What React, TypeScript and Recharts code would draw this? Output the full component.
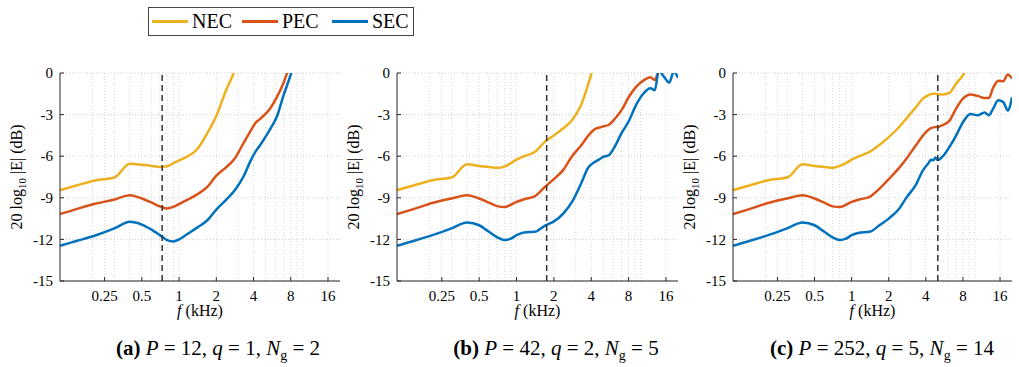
import React from "react";
import { CartesianGrid, Line, LineChart, ReferenceLine, XAxis, YAxis } from "recharts";

const SERIF = '"Liberation Serif", "DejaVu Serif", serif';

// frequency grid in kHz (shared by every curve)
const FREQ = [
  0.109, 0.15, 0.21, 0.3, 0.4, 0.5, 0.6, 0.7, 0.8, 0.9, 1.0, 1.15, 1.4, 1.7, 2.0, 2.4, 2.8, 3.3, 3.8,
  4.2, 4.4, 4.6, 4.8, 5.0, 5.5, 6.2, 7.0, 8.0, 9.2, 10.5, 12, 13, 14, 15.5, 17, 18.5, 20,
];

type V = number | null;

// (a) P = 12
const NEC_A: V[] = [
  -8.45, -8.1, -7.75, -7.54, -6.55, -6.62, -6.7, -6.77, -6.72, -6.5, -6.3, -6.05, -5.5, -4.3, -3.1,
  -1.25, 0.1, 1.8, null, null, null, null, null, null, null, null, null, null, null, null, null, null,
  null, null, null, null, null,
];
const PEC_A: V[] = [
  -10.18, -9.8, -9.43, -9.12, -8.81, -9.05, -9.35, -9.62, -9.77, -9.65, -9.45, -9.17, -8.75, -8.2, -7.4,
  -6.8, -6.2, -5.1, -4.15, -3.55, -3.4, -3.25, -3.1, -2.95, -2.5, -1.7, -0.7, 0.8, null, null, null,
  null, null, null, null, null, null,
];
const SEC_A: V[] = [
  -12.46, -12.1, -11.72, -11.21, -10.73, -10.93, -11.3, -11.69, -12.05, -12.15, -12.0, -11.65, -11.15,
  -10.6, -9.85, -9.15, -8.5, -7.5, -6.3, -5.6, -5.35, -5.1, -4.85, -4.6, -4.0, -3.1, -1.6, -0.1, 1.8,
  null, null, null, null, null, null, null, null,
];

// (b) P = 42
const NEC_B: V[] = [
  -8.45, -8.1, -7.73, -7.54, -6.58, -6.7, -6.78, -6.84, -6.75, -6.5, -6.25, -6.0, -5.7, -4.95, -4.5,
  -3.97, -3.4, -2.35, -0.75, 0.6, null, null, null, null, null, null, null, null, null, null, null,
  null, null, null, null, null, null,
];
const PEC_B: V[] = [
  -10.18, -9.8, -9.38, -9.05, -8.81, -9.05, -9.35, -9.6, -9.67, -9.5, -9.3, -9.1, -8.9, -8.2, -7.65,
  -6.95, -6.0, -5.25, -4.5, -4.1, -4.0, -3.95, -3.9, -3.85, -3.75, -3.3, -2.7, -1.75, -1.0, -0.55, -0.3,
  -0.5, 0.2, 0.8, null, null, null,
];
const SEC_B: V[] = [
  -12.46, -12.1, -11.69, -11.2, -10.78, -10.98, -11.45, -11.85, -12.05, -11.95, -11.7, -11.5, -11.45,
  -11.0, -10.7, -10.1, -9.3, -8.0, -6.8, -6.45, -6.35, -6.25, -6.15, -6.05, -5.95, -5.3, -4.35, -3.5,
  -2.3, -1.5, -1.1, -1.25, 0.15, -0.3, -0.7, 0.1, -0.35,
];

// (c) P = 252
const NEC_C: V[] = [
  -8.45, -8.1, -7.73, -7.54, -6.58, -6.7, -6.78, -6.84, -6.7, -6.5, -6.25, -6.0, -5.69, -5.15, -4.62,
  -3.95, -3.25, -2.5, -1.83, -1.6, -1.52, -1.49, -1.5, -1.53, -1.55, -1.44, -0.8, -0.15, 1.0, null,
  null, null, null, null, null, null, null,
];
const PEC_C: V[] = [
  -10.18, -9.8, -9.38, -9.05, -8.81, -9.05, -9.35, -9.62, -9.67, -9.5, -9.3, -9.12, -8.93, -8.3, -7.65,
  -6.9, -6.15, -5.25, -4.5, -4.1, -3.98, -3.92, -3.9, -3.89, -3.75, -3.45, -2.6, -1.85, -1.55, -1.65,
  -1.8, -1.8, -1.1, -0.55, -0.6, -0.1, -0.4,
];
const SEC_C: V[] = [
  -12.46, -12.1, -11.69, -11.2, -10.78, -10.98, -11.45, -11.85, -12.05, -11.95, -11.7, -11.52, -11.45,
  -10.95, -10.5, -9.85, -8.95, -8.1, -7.0, -6.5, -6.25, -6.3, -6.1, -6.28, -6.0, -5.35, -4.55, -3.55,
  -2.95, -3.05, -2.85, -3.05, -2.6, -1.97, -2.1, -2.7, -1.75,
];

const CUTOFF = [0.73, 1.75, 5.0];
const CAP_P = [12, 42, 252];
const CAP_Q = [1, 2, 5];
const CAP_NG = [2, 5, 14];

const X_TICKS = [0.25, 0.5, 1, 2, 4, 8, 16];
const X_GRID = [0.2, 0.25, 0.3, 0.4, 0.5, 0.6, 0.7, 0.8, 0.9, 1, 2, 3, 4, 5, 6, 7, 8, 9, 10, 16];
const Y_TICKS = [-15, -12, -9, -6, -3, 0];
const X_DOMAIN = [0.109, 20];

const COLORS = { nec: "#EDB120", pec: "#D95319", sec: "#0072BD" };
const AXIS = "#262626";

const PLOT_TOP = 73;
const PLOT_H = 208;
const CHART_H = 330;

const PANELS = [
  { id: "a", nec: NEC_A, pec: PEC_A, sec: SEC_A, plotLeft: 60, plotWidth: 280, capX: 218 },
  { id: "b", nec: NEC_B, pec: PEC_B, sec: SEC_B, plotLeft: 397, plotWidth: 281, capX: 556 },
  { id: "c", nec: NEC_C, pec: PEC_C, sec: SEC_C, plotLeft: 733, plotWidth: 279, capX: 882 },
];

const XTick = (props: any) => {
  const { x, y, payload } = props;
  return (
    <g>
      <line x1={x} x2={x} y1={y - 9} y2={y - 13} stroke={AXIS} />
      <text x={x} y={y} dy="0.71em" textAnchor="middle" fontSize={15} fontFamily={SERIF} fill="#000">
        {payload.value}
      </text>
    </g>
  );
};

const YTick = (props: any) => {
  const { x, y, payload } = props;
  return (
    <g>
      <line x1={x + 7} x2={x + 11} y1={y} y2={y} stroke={AXIS} />
      <text x={x} y={y} dy="0.35em" textAnchor="end" fontSize={15} fontFamily={SERIF} fill="#000">
        {payload.value}
      </text>
    </g>
  );
};

const RTick = (props: any) => {
  const { x, y } = props;
  return <line x1={x} x2={x - 4} y1={y} y2={y} stroke={AXIS} />;
};

const YLabel = (props: any) => {
  const vb = props.viewBox || {};
  const cx = (vb.x ?? 0) + (vb.width ?? 60) - 38;
  const cy = (vb.y ?? PLOT_TOP) + (vb.height ?? PLOT_H) / 2;
  return (
    <text
      x={cx}
      y={cy}
      transform={`rotate(-90, ${cx}, ${cy})`}
      textAnchor="middle"
      fontSize={16}
      fontFamily={SERIF}
      fill="#000"
    >
      20 log
      <tspan fontSize={11} dy={4}>
        10
      </tspan>
      <tspan dy={-4}> |E| (dB)</tspan>
    </text>
  );
};

const XLabel = (props: any) => {
  const vb = props.viewBox || {};
  const cx = (vb.x ?? 0) + (vb.width ?? 280) / 2;
  const cy = (vb.y ?? PLOT_TOP + PLOT_H) + 35;
  return (
    <text x={cx} y={cy} textAnchor="middle" fontSize={16} fontFamily={SERIF} fill="#000">
      <tspan fontStyle="italic">f</tspan> (kHz)
    </text>
  );
};

function Panel({ panel, index }: { panel: (typeof PANELS)[number]; index: number }) {
  const rows = FREQ.map((f, i) => ({ f, nec: panel.nec[i], pec: panel.pec[i], sec: panel.sec[i] }));
  const width = 60 + panel.plotWidth + 2;
  return (
    <div style={{ position: "absolute", left: panel.plotLeft - 60, top: 0 }}>
      <LineChart
        width={width}
        height={CHART_H}
        data={rows}
        margin={{ top: PLOT_TOP, right: 2, bottom: 0, left: 0 }}
      >
        <CartesianGrid vertical={false} stroke="#cfcfcf" strokeDasharray="1 2" />
        {X_GRID.map((v) => (
          <ReferenceLine key={v} x={v} stroke="#d8d8d8" strokeDasharray="1 2" />
        ))}
        <XAxis
          dataKey="f"
          type="number"
          scale="log"
          domain={X_DOMAIN}
          ticks={X_TICKS}
          allowDataOverflow
          height={CHART_H - PLOT_TOP - PLOT_H}
          tickSize={0}
          tickMargin={9}
          tick={<XTick />}
          axisLine={{ stroke: AXIS }}
          label={{ content: <XLabel /> }}
        />
        <YAxis
          domain={[-15, 0]}
          ticks={Y_TICKS}
          allowDataOverflow
          width={60}
          tickSize={0}
          tickMargin={7}
          tick={<YTick />}
          axisLine={{ stroke: AXIS }}
          label={{ content: <YLabel /> }}
        />
        <YAxis
          yAxisId="r"
          orientation="right"
          domain={[-15, 0]}
          ticks={Y_TICKS}
          allowDataOverflow
          width={0}
          tickSize={0}
          tickMargin={0}
          tick={<RTick />}
          axisLine={{ stroke: AXIS }}
        />
        <Line type="monotone" dataKey="nec" stroke={COLORS.nec} strokeWidth={2.5} dot={false} activeDot={false} isAnimationActive={false} />
        <Line type="monotone" dataKey="pec" stroke={COLORS.pec} strokeWidth={2.5} dot={false} activeDot={false} isAnimationActive={false} />
        <Line type="monotone" dataKey="sec" stroke={COLORS.sec} strokeWidth={2.5} dot={false} activeDot={false} isAnimationActive={false} />
        <ReferenceLine x={CUTOFF[index]} stroke="#333" strokeWidth={1.5} strokeDasharray="6 4" />
      </LineChart>
    </div>
  );
}

function LegendBox() {
  const items = [
    { name: "NEC", color: COLORS.nec, x: 4 },
    { name: "PEC", color: COLORS.pec, x: 94 },
    { name: "SEC", color: COLORS.sec, x: 184 },
  ];
  return (
    <svg style={{ position: "absolute", left: 148, top: 7 }} width={267} height={30}>
      <rect x={0.5} y={0.5} width={265} height={28} fill="#fff" stroke="#444" />
      {items.map((it) => (
        <g key={it.name}>
          <line x1={it.x} x2={it.x + 36} y1={14.5} y2={14.5} stroke={it.color} strokeWidth={2.8} />
          <text x={it.x + 40} y={21} fontSize={20} fontFamily={SERIF} fill="#000">
            {it.name}
          </text>
        </g>
      ))}
    </svg>
  );
}

function Caption({ index, x }: { index: number; x: number }) {
  const letter = ["a", "b", "c"][index];
  return (
    <div
      style={{
        position: "absolute",
        left: x,
        top: 335,
        transform: "translateX(-50%)",
        whiteSpace: "nowrap",
        fontFamily: SERIF,
        fontSize: 21,
        lineHeight: "26px",
        color: "#000",
      }}
    >
      <b>({letter})</b> <i>P</i> = {CAP_P[index]}, <i>q</i> = {CAP_Q[index]}, <i>N</i>
      <sub style={{ fontSize: 14 }}>g</sub> = {CAP_NG[index]}
    </div>
  );
}

export default function App() {
  return (
    <div style={{ position: "absolute", left: 0, top: 0, width: 1019, height: 367, background: "#fff" }}>
      {PANELS.map((p, i) => (
        <Panel key={p.id} panel={p} index={i} />
      ))}
      {PANELS.map((p, i) => (
        <Caption key={p.id} index={i} x={p.capX} />
      ))}
      <LegendBox />
    </div>
  );
}
